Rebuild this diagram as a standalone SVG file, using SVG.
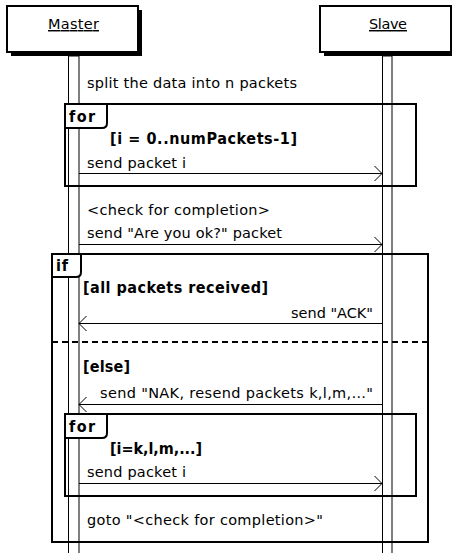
<svg xmlns="http://www.w3.org/2000/svg" width="452" height="553" viewBox="0 0 452 553">
<style>
text{font-family:"DejaVu Sans","Liberation Sans",sans-serif;font-size:14.5px;fill:#000}
.b{font-family:"DejaVu Sans Condensed","DejaVu Sans",sans-serif;font-weight:bold;font-size:16px}
.t{text-decoration:underline}
.fr{fill:none;stroke:#000;stroke-width:2}
.tab{fill:#fff;stroke:#000;stroke-width:2}
.ll{fill:#fff;stroke:#000;stroke-width:1}
.msg{stroke:#000;stroke-width:1;fill:none}
</style>
<defs>
<marker id="ah" viewBox="-10 -10 12 20" refX="0" refY="0" markerWidth="12" markerHeight="20" markerUnits="userSpaceOnUse" orient="auto">
<path d="M-7.5,-7.5 L0,0 L-7.5,7.5" fill="none" stroke="#000" stroke-width="1"/>
</marker>
</defs>
<g id="master">
<rect x="11" y="10" width="131" height="46" fill="#000"/>
<rect x="7" y="6" width="131" height="46" fill="#fff" stroke="#000" stroke-width="2"/>
<text x="73.5" y="29" text-anchor="middle" class="t" textLength="51">Master</text>
<rect class="ll" x="68.5" y="56" width="10.5" height="500"/>
</g>
<g id="slave">
<rect x="324" y="10" width="131" height="46" fill="#000"/>
<rect x="320" y="6" width="131" height="46" fill="#fff" stroke="#000" stroke-width="2"/>
<text x="388" y="29" text-anchor="middle" class="t" textLength="38">Slave</text>
<rect class="ll" x="382.5" y="56" width="9.5" height="500" stroke="#555" stroke-width="1.3"/>
</g>
<g id="notes">
<text x="87" y="88" textLength="210">split the data into n packets</text>
<text x="87" y="215" textLength="183">&lt;check for completion&gt;</text>
<text x="87" y="525" textLength="236">goto "&lt;check for completion&gt;"</text>
</g>
<g id="for1">
<rect class="fr" x="65" y="104" width="351" height="82"/>
<path class="tab" d="M65,104 L107,104 L107,123 Q107,128 102,128 L65,128 Z"/>
<text x="69" y="122" class="b" textLength="26">for</text>
<text x="110" y="144" class="b" textLength="187">[i = 0..numPackets-1]</text>
</g>
<g id="if">
<rect class="fr" x="52" y="254" width="376" height="288"/>
<path class="tab" d="M52,254 L81,254 L81,272 Q81,277 76,277 L52,277 Z"/>
<text x="56" y="271" class="b" textLength="12">if</text>
<text x="83" y="293" class="b" textLength="185">[all packets received]</text>
<line x1="52" y1="342" x2="428" y2="342" stroke="#000" stroke-width="2" stroke-dasharray="6,4"/>
<text x="83" y="372" class="b" textLength="47">[else]</text>
</g>
<g id="for2">
<rect class="fr" x="65" y="414" width="351" height="82"/>
<path class="tab" d="M65,414 L107,414 L107,433 Q107,438 102,438 L65,438 Z"/>
<text x="69" y="432" class="b" textLength="26">for</text>
<text x="110" y="454" class="b" textLength="92">[i=k,l,m,...]</text>
</g>
<g id="connectors">
<line class="msg" x1="79" y1="173.5" x2="382" y2="173.5" marker-end="url(#ah)"/>
<text x="87" y="168" textLength="99">send packet i</text>
<line class="msg" x1="79" y1="244.5" x2="382" y2="244.5" marker-end="url(#ah)"/>
<text x="87" y="238" textLength="195">send "Are you ok?" packet</text>
<line class="msg" x1="382" y1="323.5" x2="79" y2="323.5" marker-end="url(#ah)"/>
<text x="373" y="318" text-anchor="end" textLength="82">send "ACK"</text>
<line class="msg" x1="382" y1="404.5" x2="79" y2="404.5" marker-end="url(#ah)"/>
<text x="373" y="398" text-anchor="end" textLength="273">send "NAK, resend packets k,l,m,…"</text>
<line class="msg" x1="79" y1="483.5" x2="382" y2="483.5" marker-end="url(#ah)"/>
<text x="87" y="477" textLength="99">send packet i</text>
</g>
</svg>
